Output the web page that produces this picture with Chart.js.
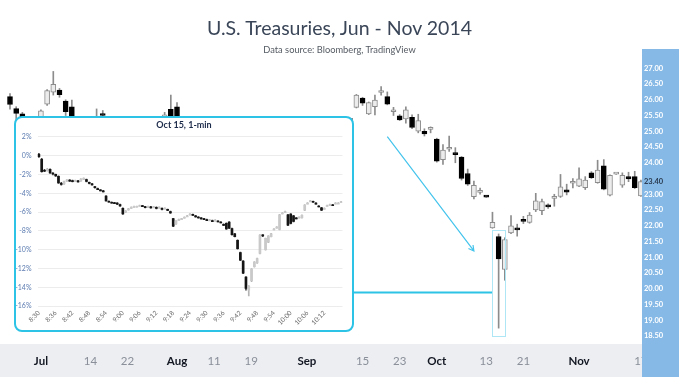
<!DOCTYPE html>
<html><head><meta charset="utf-8">
<script src="https://cdn.jsdelivr.net/npm/chart.js@4.4.1/dist/chart.umd.min.js"></script>
<style>
html,body{margin:0;padding:0;background:#fff;}
body{width:679px;height:377px;position:relative;overflow:hidden;font-family:Lato,"Open Sans",sans-serif;}
#title{position:absolute;left:0;top:16px;width:679px;text-align:center;font-size:19.5px;line-height:24px;color:#3a4658;}
#sub{position:absolute;left:0;top:43px;width:679px;text-align:center;font-size:9.3px;line-height:14px;color:#555b63;}
#main{position:absolute;left:0;top:0;}
#insetBox{position:absolute;left:14px;top:116px;width:336px;height:212px;border:2.5px solid #2cc3e6;border-radius:8px;background:#fff;}
#insetTitle{position:absolute;left:0;top:1px;width:100%;text-align:center;font-size:9px;line-height:12px;font-weight:bold;color:#1d2b4a;}
#inset{position:absolute;left:0;top:0;}
</style></head>
<body>
<canvas id="main" width="679" height="377"></canvas>
<div id="title">U.S. Treasuries, Jun - Nov 2014</div>
<div id="sub">Data source: Bloomberg, TradingView</div>
<div id="insetBox"><canvas id="inset" width="336" height="212"></canvas><div id="insetTitle">Oct 15, 1-min</div></div>
<script>
// ---------- main daily candles ----------
const dates = ['2014-06-24','2014-06-25','2014-06-26','2014-06-27','2014-06-30','2014-07-01','2014-07-02','2014-07-03','2014-07-07','2014-07-08','2014-07-09','2014-07-10','2014-07-11','2014-07-14','2014-07-15','2014-07-16','2014-07-17','2014-07-18','2014-07-21','2014-07-22','2014-07-23','2014-07-24','2014-07-25','2014-07-28','2014-07-29','2014-07-30','2014-07-31','2014-08-01','2014-08-04','2014-08-05','2014-08-06','2014-08-07','2014-08-08','2014-08-11','2014-08-12','2014-08-13','2014-08-14','2014-08-15','2014-08-18','2014-08-19','2014-08-20','2014-08-21','2014-08-22','2014-08-25','2014-08-26','2014-08-27','2014-08-28','2014-08-29','2014-09-02','2014-09-03','2014-09-04','2014-09-05','2014-09-08','2014-09-09','2014-09-10','2014-09-11','2014-09-12','2014-09-15','2014-09-16','2014-09-17','2014-09-18','2014-09-19','2014-09-22','2014-09-23','2014-09-24','2014-09-25','2014-09-26','2014-09-29','2014-09-30','2014-10-01','2014-10-02','2014-10-03','2014-10-06','2014-10-07','2014-10-08','2014-10-09','2014-10-10','2014-10-13','2014-10-14','2014-10-15','2014-10-16','2014-10-17','2014-10-20','2014-10-21','2014-10-22','2014-10-23','2014-10-24','2014-10-27','2014-10-28','2014-10-29','2014-10-30','2014-10-31','2014-11-03','2014-11-04','2014-11-05','2014-11-06','2014-11-07','2014-11-10','2014-11-11','2014-11-12','2014-11-13','2014-11-14','2014-11-17'];

const open = [26.10,25.72,25.55,25.20,25.05,25.40,25.86,26.24,26.31,25.96, 25.78,25.30,25.10,25.30,25.35,25.52,25.20,25.05,25.20,25.00, 24.90,25.00,24.85,25.05,25.20,25.45,25.70,25.78,25.25,25.05, 24.90,25.00,25.20,25.00,24.85,24.95,24.75,24.85,25.10,24.95, 24.80,24.90,24.75,24.85,24.70,24.80,25.00,25.20,25.10,25.25, 25.15,25.30,25.20,25.05,25.25,25.35,25.76,26.05,25.55,25.78, 26.23,26.10,25.62,25.49,25.39,25.44,25.00,25.00,25.06,24.75, 24.10,24.43,24.31,24.18,23.66,22.92,23.06,22.94,21.93,21.66, 20.61,21.77,21.93,22.18,22.11,22.50,22.48,22.65,22.87,22.93, 23.14,23.35,23.26,23.21,23.68,23.37,23.90,22.97,23.64,23.29, 23.56,23.56,22.95];
const high = [26.20,25.78,25.60,25.38,25.30,25.68,26.32,26.90,26.36,26.00, 25.99,25.40,25.35,25.42,25.71,25.66,25.40,25.30,25.35,25.25, 25.10,25.20,25.15,25.30,25.38,25.60,26.15,25.91,25.38,25.20, 25.10,25.30,25.35,25.15,25.05,25.10,24.95,25.20,25.25,25.05, 25.00,25.05,24.95,25.00,24.90,25.10,25.30,25.35,25.30,25.40, 25.35,25.40,25.38,25.30,25.40,25.42,26.17,26.08,25.93,26.15, 26.42,26.25,25.76,25.53,25.78,25.52,25.54,25.08,25.14,24.78, 24.58,24.85,24.48,24.20,23.80,23.42,23.20,22.95,22.43,21.74, 21.62,22.32,22.05,22.30,22.42,23.03,22.85,22.70,23.00,23.63, 23.32,23.50,23.84,23.56,23.72,24.08,24.10,23.62,23.66,23.68, 23.70,23.73,23.45];
const low = [25.70,25.31,25.00,24.95,24.90,25.30,25.82,26.15,26.08,25.50, 25.20,25.00,25.00,25.05,25.10,25.30,24.90,24.85,24.95,24.80, 24.70,24.80,24.75,24.90,25.00,25.20,25.20,25.15,24.95,24.80, 24.70,24.85,24.95,24.75,24.60,24.70,24.55,24.70,24.85,24.65, 24.60,24.70,24.55,24.65,24.55,24.70,24.90,25.00,24.90,25.05, 24.95,25.10,25.00,24.95,25.10,25.20,25.74,25.82,25.53,25.52, 26.15,25.84,25.50,25.34,25.26,25.08,24.95,24.85,24.95,24.02, 23.95,24.36,24.00,23.45,23.28,22.85,23.00,22.90,21.92,18.75, 20.27,21.75,21.67,22.07,22.08,22.45,22.35,22.55,22.62,22.90, 22.98,23.20,23.24,23.15,23.50,23.35,23.14,22.95,23.63,23.22, 23.40,23.18,22.93];
const close = [25.85,25.57,25.20,25.05,25.25,25.65,26.29,26.49,26.16,25.62, 25.30,25.10,25.30,25.15,25.20,25.50,25.05,25.20,25.00,24.90, 25.00,24.85,25.05,25.20,25.10,25.52,25.30,25.25,25.05,24.90, 25.00,25.20,25.00,24.85,24.95,24.75,24.85,25.10,24.95,24.80, 24.90,24.75,24.85,24.70,24.80,25.00,25.20,25.10,25.25,25.15, 25.30,25.20,25.05,25.25,25.35,25.40,26.15,25.89,25.91,25.99, 26.27,25.86,25.64,25.36,25.68,25.12,25.34,24.92,25.08,24.05, 24.40,24.48,24.26,23.50,23.32,23.28,23.09,22.91,22.11,20.95, 21.56,22.00,21.87,22.14,22.34,22.79,22.77,22.60,22.90,23.24, 23.07,23.38,23.49,23.45,23.53,23.77,23.16,23.60,23.65,23.60, 23.49,23.21,23.40];

const xTickDates = ['2014-07-01','2014-07-14','2014-07-22','2014-08-01','2014-08-11','2014-08-19','2014-09-02','2014-09-15','2014-09-23','2014-10-01','2014-10-13','2014-10-21','2014-11-03','2014-11-17'];
const xTickTexts = ['Jul','14','22','Aug','11','19','Sep','15','23','Oct','13','21','Nov','17'];
const monthTexts = ['Jul','Aug','Sep','Oct','Nov'];
const yTicks = [27,26.5,26,25.5,25,24.5,24,23.4,23,22.5,22,21.5,21,20.5,20,19.5,19,18.5];
const lastPrice = 23.4;

// annotation anchors (data coordinates)
const highlightDate = '2014-10-15';
const highlightRange = [18.51, 21.87];
const connectorValue = 19.88;
const arrowFrom = {date:'2014-09-19', value:24.83};
const arrowTo = {date:'2014-10-09', value:21.2};

// ---------- inset 1-min candles (Oct 15, % change) ----------
const io = [0.15,-0.40,-1.55,-1.60,-1.45,-1.85,-2.00,-2.20,-2.95,-3.00, -2.72,-2.60,-2.66,-2.72,-2.68,-2.70,-2.50,-2.55,-2.85,-3.00, -3.30,-3.50,-3.64,-3.75,-4.30,-4.85,-4.95,-5.00,-5.05,-5.20, -5.60,-6.02,-5.78,-5.58,-5.46,-5.42,-5.34,-5.32,-5.42,-5.48, -5.44,-5.48,-5.50,-5.56,-5.60,-5.64,-5.72,-5.95,-6.70,-7.25, -6.90,-6.78,-6.62,-6.48,-6.30,-6.24,-6.40,-6.52,-6.62,-6.70, -6.80,-6.88,-6.90,-6.94,-6.95,-7.05,-7.30,-7.20,-7.05,-7.75, -8.30,-9.00,-10.30,-11.20,-12.90,-14.30,-13.30,-11.80,-11.40,-10.40, -8.42,-10.00,-9.20,-8.60,-7.85,-7.65,-7.85,-6.15,-6.00,-6.30, -6.20,-6.40,-6.62,-6.58,-6.60,-5.80,-5.10,-4.85,-4.85,-5.05, -5.35,-5.55,-5.65,-5.36,-5.24,-5.22,-5.10,-5.08,-4.95];
const ih = [0.25,-0.30,-1.45,-1.35,-1.40,-1.80,-1.95,-2.15,-2.85,-2.70, -2.55,-2.55,-2.60,-2.60,-2.62,-2.45,-2.35,-2.50,-2.80,-2.95, -3.25,-3.45,-3.60,-3.70,-4.25,-4.80,-4.90,-4.95,-5.00,-5.15, -5.55,-5.85,-5.60,-5.45,-5.35,-5.35,-5.25,-5.28,-5.38,-5.35, -5.40,-5.40,-5.45,-5.45,-5.55,-5.55,-5.68,-5.90,-6.65,-6.90, -6.75,-6.65,-6.50,-6.35,-6.15,-6.20,-6.35,-6.48,-6.58,-6.65, -6.75,-6.78,-6.85,-6.80,-6.90,-7.00,-7.25,-7.15,-7.00,-7.70, -8.25,-8.95,-10.25,-11.15,-12.85,-13.80,-12.00,-11.25,-10.90,-8.40, -8.40,-8.75,-8.50,-8.25,-7.75,-7.55,-6.25,-6.05,-5.90,-6.25, -6.15,-6.35,-6.58,-6.50,-6.30,-5.20,-5.00,-4.75,-4.82,-5.00, -5.30,-5.50,-5.55,-5.25,-5.15,-5.18,-5.00,-5.00,-4.85];
const il = [-0.20,-1.75,-1.70,-1.65,-1.90,-2.05,-2.20,-2.95,-3.15,-3.05, -2.75,-2.75,-2.80,-2.75,-2.82,-2.75,-2.55,-2.80,-3.00,-3.15, -3.45,-3.62,-3.75,-3.86,-4.85,-4.95,-5.05,-5.10,-5.20,-5.40, -6.25,-6.05,-5.80,-5.60,-5.50,-5.48,-5.38,-5.42,-5.56,-5.52, -5.58,-5.52,-5.66,-5.58,-5.76,-5.66,-5.86,-6.15,-7.55,-7.30, -6.92,-6.80,-6.64,-6.50,-6.32,-6.35,-6.55,-6.65,-6.75,-6.80, -6.90,-6.90,-7.00,-6.96,-7.05,-7.15,-7.45,-7.85,-7.75,-8.45, -8.65,-9.95,-11.15,-12.55,-14.30,-14.90,-13.40,-11.85,-11.45,-10.45, -8.60,-10.05,-9.25,-8.65,-7.90,-7.70,-7.90,-6.20,-6.05,-7.45, -7.25,-7.05,-6.72,-6.62,-6.65,-5.85,-5.12,-4.88,-4.98,-5.16, -5.46,-5.85,-5.68,-5.38,-5.26,-5.30,-5.12,-5.10,-4.98];
const ic = [-0.10,-1.70,-1.62,-1.45,-1.85,-1.95,-2.15,-2.90,-3.02,-2.75, -2.60,-2.66,-2.72,-2.64,-2.76,-2.50,-2.42,-2.75,-2.95,-3.10, -3.40,-3.56,-3.70,-3.80,-4.80,-4.90,-5.00,-5.05,-5.12,-5.35, -6.20,-5.90,-5.66,-5.50,-5.40,-5.38,-5.30,-5.38,-5.50,-5.40, -5.52,-5.44,-5.60,-5.48,-5.70,-5.58,-5.80,-6.10,-7.50,-6.95, -6.80,-6.70,-6.55,-6.40,-6.20,-6.30,-6.50,-6.60,-6.70,-6.76, -6.86,-6.82,-6.96,-6.85,-7.00,-7.10,-7.40,-7.80,-7.70,-8.40, -8.60,-9.90,-11.10,-12.50,-14.10,-13.85,-12.05,-11.30,-10.95,-8.45, -8.50,-8.80,-8.55,-8.30,-7.80,-7.60,-6.30,-6.10,-5.95,-7.40, -7.20,-7.00,-6.68,-6.54,-6.35,-5.25,-5.04,-4.80,-4.92,-5.10, -5.40,-5.80,-5.60,-5.30,-5.20,-5.26,-5.05,-5.04,-4.90];
const insetTickLabels = ['8:30','8:36','8:42','8:48','8:54','9:00','9:06','9:12','9:18','9:24','9:30','9:36','9:42','9:48','9:54','10:00','10:06','10:12'];
const insetYTicks = [2,0,-2,-4,-6,-8,-10,-12,-14,-16];
const insetStart = {h:8, m:30};

// minute categories for the inset
const minutes = io.map((_, i) => {
  const t = insetStart.h * 60 + insetStart.m + i;
  return Math.floor(t / 60) + ':' + String(t % 60).padStart(2, '0');
});

const UP_FILL = '#ececec', UP_LINE = '#8c8c8c', DN = '#000000', WICK = '#8c8c8c';
const FONT = 'Lato';

// ---------- main chart ----------
const mainPlugin = {
  id: 'mainDecor',
  beforeDraw(chart) {
    const {ctx, chartArea} = chart;
    ctx.save();
    ctx.fillStyle = '#eceef2';
    ctx.fillRect(0, chartArea.bottom, chartArea.right, chart.height - chartArea.bottom);
    ctx.restore();
  },
  afterDatasetsDraw(chart) {
    const {ctx, chartArea, scales} = chart;
    const x = scales.x, y = scales.y;
    ctx.save();
    // price axis panel
    ctx.fillStyle = '#86b9e6';
    ctx.fillRect(chartArea.right - 2, 49, chart.width - chartArea.right + 2, chart.height - 49);
    // highlight box round Oct 15
    const hi = dates.indexOf(highlightDate);
    const cx = x.getPixelForValue(hi);
    const half = (x.getPixelForValue(1) - x.getPixelForValue(0)) * 1.04;
    const top = y.getPixelForValue(highlightRange[1]);
    const bot = y.getPixelForValue(highlightRange[0]);
    ctx.strokeStyle = '#aee6f5';
    ctx.lineWidth = 1;
    ctx.strokeRect(Math.round(cx - half) + 0.5, Math.round(top) + 0.5, Math.round(2 * half), Math.round(bot - top));
    // connector from inset
    const box = document.getElementById('insetBox');
    const startX = box.offsetLeft + box.offsetWidth;
    const cy = y.getPixelForValue(connectorValue);
    ctx.strokeStyle = '#2cc3e6';
    ctx.lineWidth = 2;
    ctx.beginPath();
    ctx.moveTo(startX - 1, cy);
    ctx.lineTo(Math.round(cx - half), cy);
    ctx.stroke();
    // arrow
    const ax1 = x.getPixelForValue(dates.indexOf(arrowFrom.date)), ay1 = y.getPixelForValue(arrowFrom.value);
    const ax2 = x.getPixelForValue(dates.indexOf(arrowTo.date)), ay2 = y.getPixelForValue(arrowTo.value);
    ctx.strokeStyle = '#45c4ec';
    ctx.lineWidth = 1.2;
    ctx.beginPath();
    ctx.moveTo(ax1, ay1);
    ctx.lineTo(ax2, ay2);
    const ang = Math.atan2(ay2 - ay1, ax2 - ax1);
    const L = 6, A = 0.5;
    ctx.moveTo(ax2 - L * Math.cos(ang - A), ay2 - L * Math.sin(ang - A));
    ctx.lineTo(ax2, ay2);
    ctx.lineTo(ax2 - L * Math.cos(ang + A), ay2 - L * Math.sin(ang + A));
    ctx.stroke();
    ctx.restore();
  }
};

const isUp = (i) => close[i] >= open[i];

new Chart(document.getElementById('main'), {
  type: 'bar',
  data: {
    labels: dates,
    datasets: [
      {
        label: 'body',
        data: dates.map((d, i) => [open[i], close[i]]),
        backgroundColor: dates.map((d, i) => isUp(i) ? UP_FILL : DN),
        borderColor: dates.map((d, i) => isUp(i) ? UP_LINE : DN),
        borderWidth: 1,
        borderSkipped: false,
        barThickness: 5,
        minBarLength: 2,
        grouped: false,
        order: 0
      },
      {
        label: 'wick',
        data: dates.map((d, i) => [low[i], high[i]]),
        backgroundColor: WICK,
        borderWidth: 0,
        barThickness: 1,
        grouped: false,
        order: 1
      }
    ]
  },
  options: {
    responsive: false,
    animation: false,
    layout: {padding: {top: 60, left: 0, right: 0, bottom: 0}},
    plugins: {legend: {display: false}, tooltip: {enabled: false}, title: {display: false}},
    scales: {
      x: {
        type: 'category',
        offset: true,
        grid: {display: false, drawTicks: false},
        border: {display: false},
        afterFit(s) { s.height = 33; },
        ticks: {
          autoSkip: false,
          maxRotation: 0,
          minRotation: 0,
          padding: 10,
          callback(v, i) {
            const k = xTickDates.indexOf(dates[i]);
            return k >= 0 ? xTickTexts[k] : '';
          },
          color: (c) => monthTexts.includes(c.tick && c.tick.label) ? '#131722' : '#8a8f99',
          font: (c) => ({family: FONT, size: 11.5, weight: monthTexts.includes(c.tick && c.tick.label) ? 'bold' : 'normal'})
        }
      },
      y: {
        position: 'right',
        min: 18.246,
        max: 27.263,
        grid: {display: false, drawTicks: false},
        border: {display: false},
        afterFit(s) { s.width = 35; },
        afterBuildTicks(s) { s.ticks = yTicks.map(v => ({value: v})); },
        ticks: {
          z: 2,
          crossAlign: 'center',
          padding: 0,
          callback: (v) => Number(v).toFixed(2),
          color: (c) => (c.tick && c.tick.value === lastPrice) ? '#2a3a50' : '#ffffff',
          font: {family: FONT, size: 7.5, weight: 'bold'}
        }
      }
    }
  },
  plugins: [mainPlugin]
});

// ---------- inset chart ----------
const iUp = (i) => ic[i] >= io[i];
new Chart(document.getElementById('inset'), {
  type: 'bar',
  data: {
    labels: minutes,
    datasets: [
      {
        data: minutes.map((m, i) => [io[i], ic[i]]),
        backgroundColor: minutes.map((m, i) => iUp(i) ? '#c9c9c9' : '#151515'),
        borderWidth: 0,
        barThickness: 2,
        minBarLength: 1,
        grouped: false,
        order: 0
      },
      {
        data: minutes.map((m, i) => [il[i], ih[i]]),
        backgroundColor: minutes.map((m, i) => iUp(i) ? '#b5b5b5' : '#444444'),
        borderWidth: 0,
        barThickness: 1,
        grouped: false,
        order: 1
      }
    ]
  },
  options: {
    responsive: false,
    animation: false,
    layout: {padding: {top: 18.8, right: 9.5, left: 0, bottom: 0}},
    plugins: {legend: {display: false}, tooltip: {enabled: false}},
    scales: {
      x: {
        type: 'category',
        offset: true,
        grid: {display: false, drawTicks: false},
        border: {display: false},
        afterFit(s) { s.height = 23.8; },
        ticks: {
          autoSkip: false,
          maxRotation: 45,
          minRotation: 45,
          padding: 3,
          callback(v, i) { return insetTickLabels.includes(minutes[i]) ? minutes[i] : ''; },
          color: '#6b6b6b',
          font: {family: FONT, size: 6.5}
        }
      },
      y: {
        min: -16,
        max: 2,
        grid: {color: '#ececec', drawTicks: false},
        border: {display: false},
        afterFit(s) { s.width = 21.5; },
        afterBuildTicks(s) { s.ticks = insetYTicks.map(v => ({value: v})); },
        ticks: {
          padding: 6,
          callback: (v) => v + '%',
          color: '#5b7bb0',
          font: {family: FONT, size: 7}
        }
      }
    }
  }
});
</script>
</body></html>
